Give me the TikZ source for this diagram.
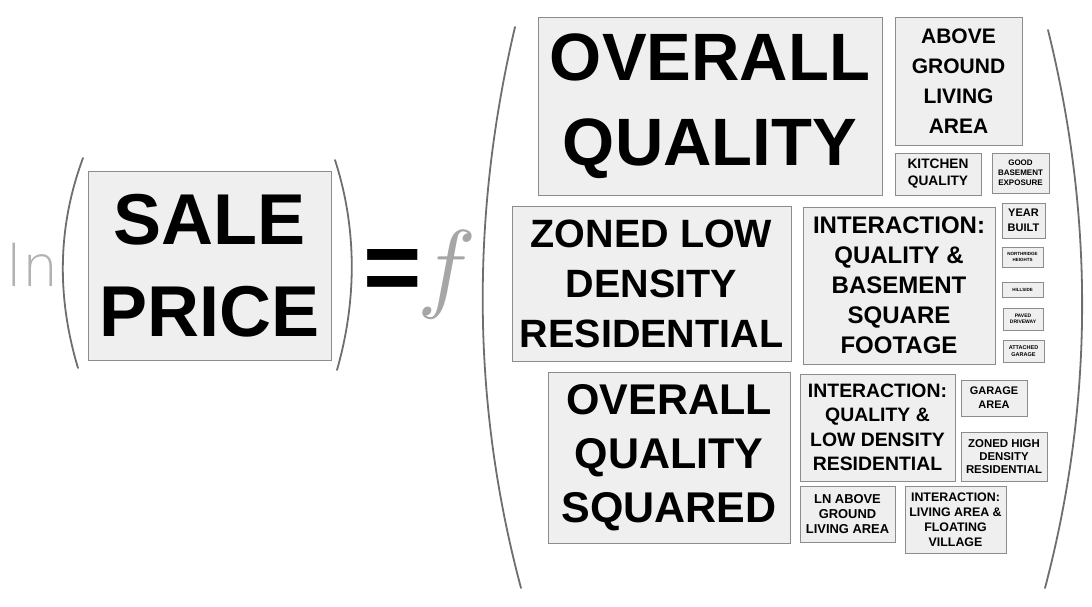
\documentclass[tikz,border=0pt]{standalone}
\usepackage{fontspec}
\usepackage{unicode-math}
\setmainfont{Liberation Sans}
\newfontfamily\thinfont{DejaVu Sans ExtraLight}
\definecolor{boxfill}{HTML}{EFEFEF}
\definecolor{boxline}{HTML}{8C8C8C}
\definecolor{parenline}{HTML}{6E6E6E}
\newcommand{\fsz}[2]{\fontsize{#1}{#2}\selectfont\bfseries}
\tikzset{
	term/.style={draw=boxline,fill=boxfill,line width=1pt,align=center,inner sep=0pt},
	paren/.style={draw=parenline,line width=1.8pt,line cap=round}
}

\begin{document}
\begin{tikzpicture}[x=1pt,y=-1pt]
	\useasboundingbox (0,0) rectangle (1092,606);
	
	%LEFT HAND SIDE
	\node[anchor=base west,inner sep=0,text=gray!60,font=\thinfont\fontsize{57}{57}\selectfont] (ln) at (6,286) {ln};
	\node[term,minimum width=243,minimum height=189,font=\fsz{72}{92}] (price) at (209.5,265.5) {SALE\\PRICE};
	\draw[paren] (83,158) .. controls (57,228) and (57,298) .. (78,368);
	\draw[paren] (335,160) .. controls (357,228) and (357,300) .. (337,370);
	%
	\node[anchor=base,inner sep=0,font=\fsz{100}{100}] (eq) at (392.5,301) {=};
	\node[anchor=base,inner sep=0,text=gray!70,font=\fontsize{99}{99}\selectfont] (fn) at (446,299) {$f$};
	
	%BIG PARENTHESES
	\draw[paren] (515,27) .. controls (471,214) and (471,401) .. (521,588);
	\draw[paren] (1048,30) .. controls (1094,216) and (1094,402) .. (1045,588);
	
	%TOP ROW
	\node[term,minimum width=344,minimum height=178,font=\fsz{67}{85}] (qual) at (710,106) {OVERALL\\QUALITY};
	\node[term,minimum width=127,minimum height=128,font=\fsz{21}{30}] (area) at (958.5,81) {ABOVE\\GROUND\\LIVING\\AREA};
	\node[term,minimum width=86,minimum height=42,font=\fsz{13.7}{17}] (kitchen) at (938,174) {KITCHEN\\QUALITY};
	\node[term,minimum width=57,minimum height=40,font=\fsz{8}{10}] (bsmt) at (1020.5,173) {GOOD\\BASEMENT\\EXPOSURE};
	
	%MIDDLE ROW
	\node[term,minimum width=279,minimum height=155,font=\fsz{39.5}{50}] (lowres) at (651.5,283.5) {ZONED LOW\\DENSITY\\RESIDENTIAL};
	\node[term,minimum width=192,minimum height=157,font=\fsz{24}{30}] (qualbsmt) at (899,285.5) {INTERACTION:\\QUALITY \&\\BASEMENT\\SQUARE\\FOOTAGE};
	\node[term,minimum width=43,minimum height=35,font=\fsz{11}{15}] (year) at (1023.5,220.5) {YEAR\\BUILT};
	\node[term,minimum width=41,minimum height=20,font=\fsz{4.5}{6}] (nridge) at (1022.5,257) {NORTHRIDGE\\HEIGHTS};
	\node[term,minimum width=41,minimum height=15,font=\fsz{4.5}{6}] (hill) at (1022.5,289.5) {HILLSIDE};
	\node[term,minimum width=40,minimum height=22,font=\fsz{5}{6.5}] (paved) at (1023,319) {PAVED\\DRIVEWAY};
	\node[term,minimum width=41,minimum height=22,font=\fsz{5.5}{7}] (garage) at (1023.5,351) {ATTACHED\\GARAGE};
	
	%BOTTOM ROW
	\node[term,minimum width=242,minimum height=171,font=\fsz{43}{54}] (qualsq) at (669,457.5) {OVERALL\\QUALITY\\SQUARED};
	\node[term,minimum width=155,minimum height=107,font=\fsz{19.4}{24.5}] (qualres) at (877.5,427.5) {INTERACTION:\\QUALITY \&\\LOW DENSITY\\RESIDENTIAL};
	\node[term,minimum width=66,minimum height=36,font=\fsz{11}{14}] (garea) at (994,398) {GARAGE\\AREA};
	\node[term,minimum width=86,minimum height=49,font=\fsz{11.4}{13}] (highres) at (1004,456.5) {ZONED HIGH\\DENSITY\\RESIDENTIAL};
	\node[term,minimum width=95,minimum height=56,font=\fsz{12.9}{15}] (lnarea) at (847.5,514) {LN ABOVE\\GROUND\\LIVING AREA};
	\node[term,minimum width=101,minimum height=67,font=\fsz{12.4}{15}] (village) at (955.5,519.5) {INTERACTION:\\LIVING AREA \&\\FLOATING\\VILLAGE};
\end{tikzpicture}
\end{document}
